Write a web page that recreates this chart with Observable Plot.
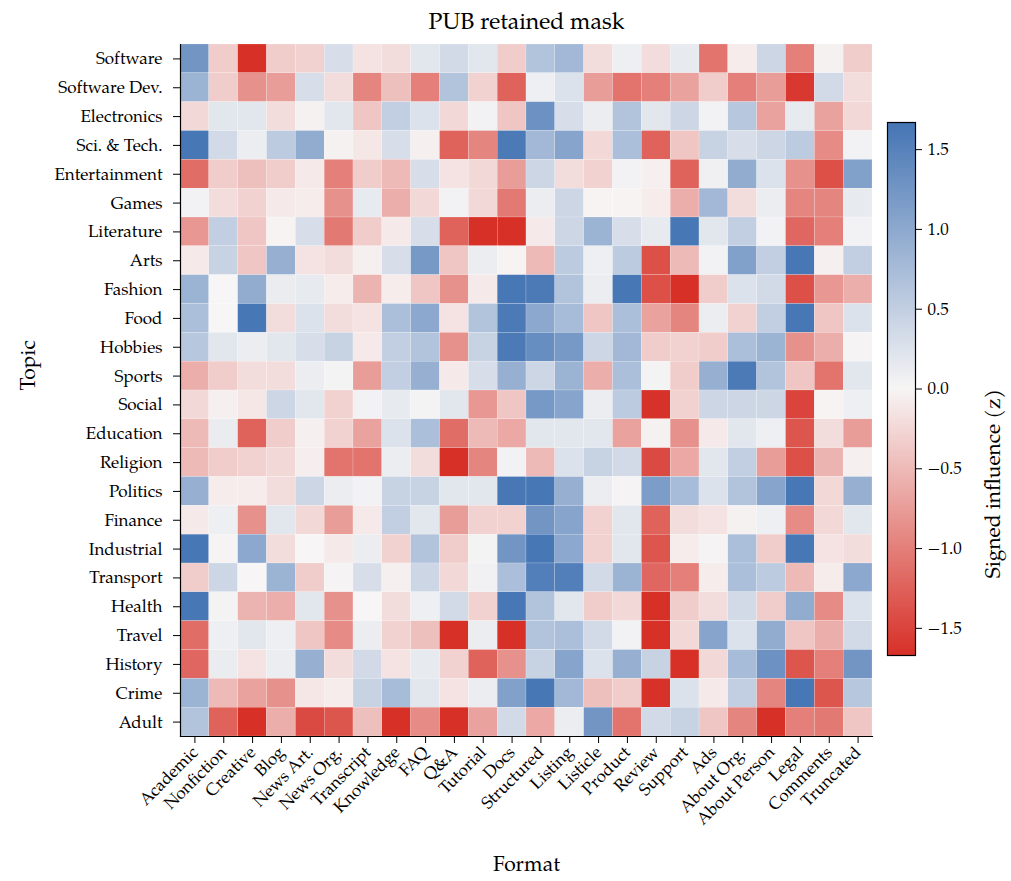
<!DOCTYPE html>
<html>
<head>
<meta charset="utf-8">
<script src="https://cdn.jsdelivr.net/npm/d3@7"></script>
<script src="https://cdn.jsdelivr.net/npm/@observablehq/plot@0.6"></script>
<style>
  html, body { margin: 0; padding: 0; background: white; }
  #wrap { position: relative; width: 1011px; height: 881px; }
  #wrap > div, #wrap > svg { position: absolute; }
</style>
</head>
<body>
<div id="wrap"></div>
<script>
const formats = ["Academic","Nonfiction","Creative","Blog","News Art.","News Org.","Transcript","Knowledge","FAQ","Q&A","Tutorial","Docs","Structured","Listing","Listicle","Product","Review","Support","Ads","About Org.","About Person","Legal","Comments","Truncated"];
const topics = ["Software","Software Dev.","Electronics","Sci. & Tech.","Entertainment","Games","Literature","Arts","Fashion","Food","Hobbies","Sports","Social","Education","Religion","Politics","Finance","Industrial","Transport","Health","Travel","History","Crime","Adult"];
const colorbarTicks = [-1.5, -1.0, -0.5, 0.0, 0.5, 1.0, 1.5];

// Signed influence (z), one array per topic row, in the order of `formats`
const zSoftware      = [1.25,-0.35,-1.7,-0.35,-0.3,0.3,-0.15,-0.2,0.2,0.35,0.2,-0.35, 0.65,0.8,-0.2,0.08,-0.2,0.15,-1.1,-0.08,0.4,-1.0,-0.03,-0.35];
const zSoftwareDev   = [0.85,-0.35,-0.85,-0.75,0.3,-0.2,-0.95,-0.45,-1.0,0.65,-0.3,-1.25, 0.08,0.25,-0.75,-1.1,-1.0,-0.7,-0.35,-1.0,-0.75,-1.6,0.35,-0.2];
const zElectronics   = [-0.25,0.2,0.2,-0.2,-0.03,0.2,-0.4,0.5,0.25,-0.25,0.05,-0.4, 1.3,0.3,0.1,0.65,0.2,0.4,0.05,0.6,-0.7,0.15,-0.7,-0.25];
const zSciTech       = [1.65,0.35,0.1,0.55,0.95,-0.03,-0.12,0.3,-0.05,-1.25,-0.95,1.6, 0.8,1.05,-0.25,0.7,-1.25,-0.4,0.45,0.3,0.4,0.55,-0.9,0.05];
const zEntertainment = [-1.15,-0.35,-0.45,-0.35,-0.1,-1.0,-0.35,-0.5,0.3,-0.15,-0.25,-0.75, 0.4,-0.2,-0.3,0.05,-0.05,-1.25,0.07,0.95,0.25,-0.85,-1.4,1.1];
const zGames         = [0.05,-0.2,-0.3,-0.1,-0.08,-0.85,0.15,-0.6,-0.25,0.05,-0.25,-1.05, 0.1,0.4,-0.02,-0.02,-0.08,-0.6,0.8,-0.2,0.1,-0.95,-0.95,0.15];
const zLiterature    = [-0.8,0.5,-0.4,-0.02,0.3,-1.05,-0.35,-0.1,0.3,-1.25,-1.7,-1.7, -0.1,0.4,0.85,0.3,0.15,1.65,0.2,0.5,0.05,-1.2,-1.0,0.05];
const zArts          = [-0.1,0.45,-0.4,0.9,-0.15,-0.2,-0.05,0.3,1.2,-0.4,0.1,-0.02, -0.5,0.55,0.08,0.55,-1.4,-0.5,0.05,1.1,0.5,1.65,-0.05,0.5];
const zFashion       = [0.85,0.0,0.95,0.12,0.15,-0.08,-0.55,-0.08,-0.4,-0.85,-0.1,1.65, 1.6,0.65,0.1,1.65,-1.4,-1.7,-0.35,0.25,0.35,-1.4,-0.8,-0.6];
const zFood          = [0.7,0.0,1.65,-0.2,0.25,-0.2,-0.15,0.7,1.0,-0.15,0.65,1.6, 1.0,0.75,-0.4,0.7,-0.7,-0.95,0.1,-0.3,0.5,1.65,-0.4,0.25];
const zHobbies       = [0.6,0.2,0.1,0.2,0.3,0.45,-0.1,0.5,0.65,-0.85,0.45,1.6, 1.35,1.2,0.4,0.8,-0.35,-0.3,-0.35,0.7,0.85,-0.85,-0.6,0.02];
const zSports        = [-0.6,-0.35,-0.2,-0.2,0.1,0.03,-0.75,0.5,0.9,-0.1,0.3,0.9, 0.4,0.85,-0.6,0.7,0.03,-0.35,0.9,1.6,0.65,-0.4,-1.1,0.2];
const zSocial        = [-0.25,-0.05,-0.12,0.4,0.2,-0.3,0.05,0.15,0.03,0.2,-0.8,-0.4, 1.2,1.05,0.1,0.55,-1.65,-0.3,0.4,0.4,0.4,-1.5,-0.02,0.08];
const zEducation     = [-0.5,0.12,-1.25,-0.35,-0.05,-0.3,-0.7,0.25,0.7,-1.15,-0.5,-0.65, 0.2,0.2,0.2,-0.7,-0.03,-0.85,-0.1,0.2,0.08,-1.35,-0.2,-0.75];
const zReligion      = [-0.5,-0.35,-0.3,-0.25,-0.06,-1.1,-1.1,0.1,-0.2,-1.7,-0.95,0.05, -0.5,0.25,0.45,0.35,-1.45,-0.65,0.2,0.5,-0.75,-1.4,-0.55,-0.05];
const zPolitics      = [0.9,-0.08,-0.08,-0.2,0.4,0.1,0.05,0.45,0.45,0.2,0.2,1.65, 1.65,0.9,0.1,0.02,1.15,0.75,0.25,0.65,1.05,1.65,-0.25,0.9];
const zFinance       = [-0.1,0.08,-0.85,0.2,-0.25,-0.75,-0.1,0.5,0.2,-0.75,-0.3,-0.3, 1.25,1.05,-0.3,0.2,-1.25,-0.2,-0.15,-0.03,0.08,-0.9,-0.25,0.2];
const zIndustrial    = [1.65,0.02,1.0,-0.2,0.0,-0.1,0.1,-0.3,0.65,-0.35,0.03,1.25, 1.65,1.0,-0.3,0.2,-1.35,-0.08,0.02,0.7,-0.35,1.65,-0.15,-0.2];
const zTransport     = [-0.35,0.4,0.0,0.85,-0.35,0.02,0.3,-0.05,0.4,-0.25,0.06,0.7, 1.55,1.55,0.35,0.85,-1.2,-1.0,-0.08,0.7,0.55,-0.5,-0.08,1.0];
const zHealth        = [1.65,0.03,-0.55,-0.6,0.2,-0.85,0.0,-0.2,0.08,0.35,-0.3,1.65, 0.65,0.2,-0.35,-0.25,-1.7,-0.35,-0.2,0.35,-0.35,0.95,-0.9,0.25];
const zTravel        = [-1.15,0.08,0.2,0.08,-0.4,-0.9,0.1,-0.3,-0.45,-1.7,0.1,-1.7, 0.65,0.7,0.35,0.05,-1.7,-0.25,1.05,0.25,0.95,-0.4,-0.6,0.35];
const zHistory       = [-1.2,0.12,-0.15,0.1,0.9,-0.2,0.35,-0.15,0.15,-0.3,-1.25,-0.85, 0.45,1.05,0.25,0.9,0.45,-1.7,-0.25,0.75,1.3,-1.35,-1.0,1.25];
const zCrime         = [0.85,-0.5,-0.7,-0.85,-0.12,-0.08,0.45,0.75,0.2,-0.15,0.1,1.1, 1.65,0.8,-0.45,-0.35,-1.65,0.25,-0.1,0.5,-0.95,1.65,-1.35,0.6];
const zAdult         = [0.65,-1.25,-1.7,-0.6,-1.45,-1.35,-0.45,-1.7,-0.9,-1.7,-0.7,0.35, -0.65,0.1,1.25,-1.1,0.35,0.45,-0.4,-0.95,-1.7,-1.0,-1.05,-0.4];

const rowsZ = [zSoftware,zSoftwareDev,zElectronics,zSciTech,zEntertainment,zGames,zLiterature,zArts,zFashion,zFood,zHobbies,zSports,zSocial,zEducation,zReligion,zPolitics,zFinance,zIndustrial,zTransport,zHealth,zTravel,zHistory,zCrime,zAdult];

const cells = [];
topics.forEach((t, i) => formats.forEach((f, j) => cells.push({topic: t, format: f, z: rowsZ[i][j]})));

const FONT = "'Palatino Linotype', Palatino, 'TeX Gyre Pagella', 'Liberation Serif', serif";
const colorScale = {type: "linear", domain: [-1.67, 0, 1.67], range: ["#d73027", "#f7f5f5", "#4575b4"], interpolate: "rgb", clamp: true};

const main = Plot.plot({
  width: 1011, height: 881,
  marginTop: 44, marginLeft: 180, marginRight: 139, marginBottom: 145,
  style: {fontFamily: FONT, fontSize: "17px", background: "transparent", color: "black"},
  x: {domain: formats, padding: 0, round: false, axis: null},
  y: {domain: topics, padding: 0, round: false, axis: null},
  color: colorScale,
  marks: [
    Plot.cell(cells, {x: "format", y: "topic", fill: "z", stroke: "white", strokeWidth: 0.3, strokeOpacity: 0.6}),
    Plot.axisY({anchor: "left", tickSize: 7, tickPadding: 11, fontSize: 17, label: null}),
    Plot.axisX({anchor: "bottom", tickSize: 7, tickPadding: 6, tickRotate: -45, fontSize: 17, label: null}),
    Plot.frame({anchor: "left", stroke: "black", strokeWidth: 1.2}),
    Plot.frame({anchor: "bottom", stroke: "black", strokeWidth: 1.2}),
    Plot.text(["PUB retained mask"], {frameAnchor: "top", dy: -23, lineAnchor: "middle", fontSize: 23}),
    Plot.text(["Format"], {frameAnchor: "bottom", dy: 128, lineAnchor: "middle", fontSize: 21}),
    Plot.text(["Topic"], {frameAnchor: "left", dx: -152, rotate: -90, lineAnchor: "middle", fontSize: 21})
  ]
});

const step = 0.01;
const slices = d3.range(-1.67, 1.67, step);
const bar = Plot.plot({
  width: 141, height: 881,
  marginTop: 122, marginBottom: 226, marginLeft: 17, marginRight: 96,
  style: {fontFamily: FONT, fontSize: "17px", background: "transparent", color: "black"},
  x: {domain: [0, 1], axis: null},
  y: {domain: [-1.67, 1.67], axis: null},
  color: colorScale,
  marks: [
    Plot.rect(slices, {x1: 0, x2: 1, y1: d => d, y2: d => Math.min(1.67, d + step * 1.5), fill: d => d + step / 2, shapeRendering: "crispEdges"}),
    Plot.frame({stroke: "black", strokeWidth: 1.2}),
    Plot.axisY({anchor: "right", ticks: colorbarTicks, tickFormat: d3.format(".1f"), tickSize: 6, tickPadding: 6, fontSize: 17, label: null}),
    Plot.text(["Signed influence (z)"], {frameAnchor: "right", dx: 78, rotate: -90, lineAnchor: "middle", fontSize: 21})
  ]
});

const wrap = document.getElementById("wrap");
main.style.left = "0px"; main.style.top = "0px";
bar.style.left = "870px"; bar.style.top = "0px";
wrap.appendChild(main);
wrap.appendChild(bar);
</script>
</body>
</html>
